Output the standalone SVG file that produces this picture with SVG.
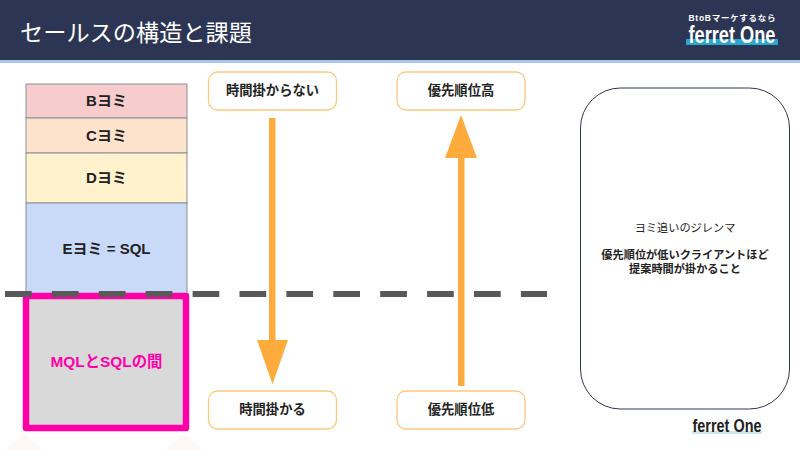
<svg xmlns="http://www.w3.org/2000/svg" width="800" height="450" viewBox="0 0 800 450">
<style>
text{font-family:"Liberation Sans","Noto Sans CJK JP",sans-serif;text-anchor:middle}
.b{font-weight:700;font-size:13.300px;fill:#222}
.f{font-weight:700;font-size:15px;fill:#222}
.s{stroke:#8a8f99;stroke-width:1}
.o{fill:#fff;stroke:#fdc77e;stroke-width:1.3}
.a{fill:#fdab3d}
</style>
<rect width="800" height="450" fill="#fff"/>
<path d="M6 450L24 433L42 450ZM166 450L184 433L202 450Z" fill="#fef8f4"/>
<g id="header">
<rect width="800" height="60" fill="#2c3654"/>
<rect y="60" width="800" height="3" fill="#a3c6ea"/>
<text x="136" y="41" font-size="23.200" fill="#fff">セールスの構造と課題</text>
<text x="732" y="21" font-size="8.500" font-weight="700" fill="#fff" textLength="87" lengthAdjust="spacing">BtoBマーケするなら</text>
<rect x="686" y="39" width="92" height="6" fill="#2aa7cb"/>
<text x="732" y="43" font-size="23" font-weight="700" fill="#fff" textLength="87" lengthAdjust="spacingAndGlyphs">ferret One</text>
</g>
<g id="funnel-b"><rect class="s" x="26" y="84" width="161" height="34" fill="#f6cccc"/><text class="f" x="106.500" y="106">Bヨミ</text></g>
<g id="funnel-c"><rect class="s" x="26" y="118" width="161" height="35" fill="#fde3cc"/><text class="f" x="106.500" y="141">Cヨミ</text></g>
<g id="funnel-d"><rect class="s" x="26" y="153" width="161" height="50" fill="#fff2cc"/><text class="f" x="106.500" y="183">Dヨミ</text></g>
<g id="funnel-e"><rect class="s" x="26" y="203" width="161" height="91" fill="#c9daf8"/><text class="f" x="106.500" y="254">Eヨミ = SQL</text></g>
<g id="gap"><rect x="26" y="296" width="160" height="132" fill="#d9d9d9" stroke="#ff00a8" stroke-width="6.500" stroke-linejoin="round"/><text x="106.500" y="367" font-size="15.400" font-weight="700" fill="#ff00a8">MQLとSQLの間</text></g>
<g id="connectors">
<line x1="5" y1="294" x2="547" y2="294" stroke="#595959" stroke-width="6" stroke-dasharray="26.700 20.200"/>
<rect class="a" x="269" y="118" width="6.500" height="222"/><path class="a" d="M257 340H288L272.500 384Z"/>
<rect class="a" x="458" y="158" width="6.500" height="228"/><path class="a" d="M445 158H477L461 115Z"/>
</g>
<g id="n1"><rect class="o" x="208.500" y="72" width="128" height="38" rx="9"/><text class="b" x="272.500" y="95">時間掛からない</text></g>
<g id="n2"><rect class="o" x="397" y="72" width="128" height="38" rx="9"/><text class="b" x="461" y="95">優先順位高</text></g>
<g id="n3"><rect class="o" x="208.500" y="391" width="128" height="38" rx="9"/><text class="b" x="272.500" y="414">時間掛かる</text></g>
<g id="n4"><rect class="o" x="397" y="391" width="128" height="38" rx="9"/><text class="b" x="461" y="414">優先順位低</text></g>
<g id="dilemma"><rect x="580.500" y="88" width="209" height="321" rx="40" fill="#fff" stroke="#2c3654" stroke-width="1"/>
<text x="685" y="232" font-size="11.200" fill="#222">ヨミ追いのジレンマ</text>
<text x="685" y="259" font-size="11.200" font-weight="700" fill="#222">優先順位が低いクライアントほど</text>
<text x="685" y="273" font-size="11.200" font-weight="700" fill="#222">提案時間が掛かること</text></g>
<g id="logo"><rect x="692" y="431" width="70" height="3" fill="#cfe6ef"/><text x="727" y="432" font-size="18" font-weight="700" fill="#222" textLength="69" lengthAdjust="spacingAndGlyphs">ferret One</text></g>
</svg>
